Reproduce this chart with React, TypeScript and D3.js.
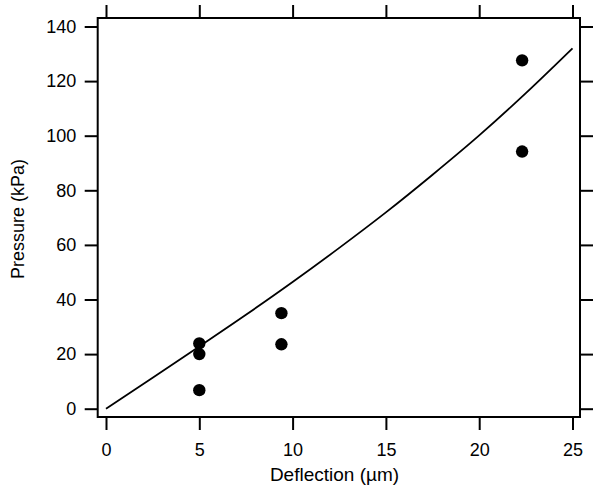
import * as d3 from "d3";
import React, { useEffect, useRef } from "react";

// measured points
const deflection = [5, 5, 5, 9.4, 9.4, 22.3, 22.3];
const pressure = [23.9, 20.0, 6.8, 35.0, 23.6, 127.6, 94.2];

// fitted curve
const fitDeflection = [0, 2.5, 5, 7.5, 10, 12.5, 15, 17.5, 20, 22.5, 25];
const fitPressure = [0, 11.3, 22.8, 34.4, 46.4, 58.9, 71.9, 85.7, 100.1, 115.6, 132];

const xTicks = [0, 5, 10, 15, 20, 25];
const yTicks = [0, 20, 40, 60, 80, 100, 120, 140];

export default function App() {
  const svgRef = useRef<SVGSVGElement>(null);

  useEffect(() => {
    const svg = d3.select(svgRef.current);
    svg.selectAll("*").remove();

    const width = 604;
    const height = 491;
    const frame = { left: 97.7, right: 580, top: 18, bottom: 417 };
    const font = "'Liberation Sans', Arial, sans-serif";
    const fontSize = 18;

    const xScale = d3.scaleLinear().domain([0, 25]).range([106, 572.5]);
    const yScale = d3.scaleLinear().domain([0, 140]).range([408.7, 26.5]);

    svg.append("rect")
      .attr("width", width)
      .attr("height", height)
      .attr("fill", "#fff");

    const styleAxis = (g: any) => {
      g.select(".domain").remove();
      g.selectAll("line").attr("stroke", "#000").attr("stroke-width", 2);
      g.selectAll("text")
        .attr("fill", "#000")
        .style("font-family", font)
        .style("font-size", `${fontSize}px`);
    };

    // Axes (ticks outside on all four sides)
    svg.append("g")
      .attr("transform", `translate(0,${frame.bottom})`)
      .call(d3.axisBottom(xScale).tickValues(xTicks).tickSize(13).tickSizeOuter(0).tickPadding(13.2))
      .call(styleAxis);

    svg.append("g")
      .attr("transform", `translate(0,${frame.top})`)
      .call(d3.axisTop(xScale).tickValues(xTicks).tickSize(13).tickSizeOuter(0).tickFormat(() => ""))
      .call(styleAxis);

    svg.append("g")
      .attr("transform", `translate(${frame.left},0)`)
      .call(d3.axisLeft(yScale).tickValues(yTicks).tickSize(13).tickSizeOuter(0).tickPadding(8.5))
      .call(styleAxis);

    svg.append("g")
      .attr("transform", `translate(${frame.right},0)`)
      .call(d3.axisRight(yScale).tickValues(yTicks).tickSize(13).tickSizeOuter(0).tickFormat(() => ""))
      .call(styleAxis);

    // Frame
    svg.append("rect")
      .attr("x", frame.left)
      .attr("y", frame.top)
      .attr("width", frame.right - frame.left)
      .attr("height", frame.bottom - frame.top)
      .attr("fill", "none")
      .attr("stroke", "#000")
      .attr("stroke-width", 2);

    // Fit line
    const fit = fitDeflection.map((d, i) => [d, fitPressure[i]] as [number, number]);
    const line = d3.line<[number, number]>()
      .x(d => xScale(d[0]))
      .y(d => yScale(d[1]))
      .curve(d3.curveMonotoneX);

    svg.append("path")
      .datum(fit)
      .attr("fill", "none")
      .attr("stroke", "#000")
      .attr("stroke-width", 1.8)
      .attr("d", line);

    // Points
    svg.append("g")
      .selectAll("circle")
      .data(deflection.map((d, i) => [d, pressure[i]]))
      .join("circle")
      .attr("cx", d => xScale(d[0]))
      .attr("cy", d => yScale(d[1]))
      .attr("r", 6.2)
      .attr("fill", "#000");

    // Axis labels
    svg.append("text")
      .attr("x", 334.5)
      .attr("y", 480.5)
      .attr("text-anchor", "middle")
      .style("font-family", font)
      .style("font-size", "19px")
      .text("Deflection (µm)");

    svg.append("text")
      .attr("transform", "rotate(-90)")
      .attr("x", -219)
      .attr("y", 23.5)
      .attr("text-anchor", "middle")
      .style("font-family", font)
      .style("font-size", `${fontSize}px`)
      .text("Pressure (kPa)");
  }, []);

  return (
    <svg
      ref={svgRef}
      width={604}
      height={491}
      style={{ position: "absolute", left: 0, top: 0, display: "block" }}
    ></svg>
  );
}
